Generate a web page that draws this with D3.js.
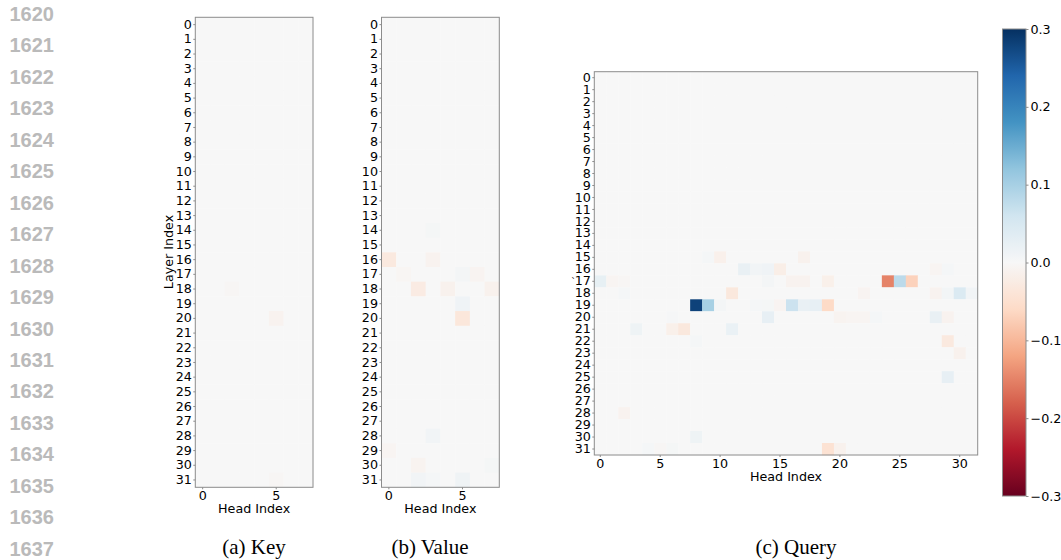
<!DOCTYPE html>
<html><head><meta charset="utf-8">
<script src="https://cdn.jsdelivr.net/npm/d3@7"></script>
<style>body{margin:0;background:#fff}svg{display:block}</style>
</head><body>
<svg id="c" width="1061" height="560"></svg>
<script>
// ---- data ----
const layers = d3.range(32);
const keyHeads = d3.range(8);
const valueHeads = d3.range(8);
const queryHeads = d3.range(32);
const xTicksSmall = [0, 5];
const xTicksQuery = [0, 5, 10, 15, 20, 25, 30];
const colorTicks = [-0.3, -0.2, -0.1, 0.0, 0.1, 0.2, 0.3];
const lineNumbers = d3.range(1620, 1638);
const captions = ["(a) Key", "(b) Value", "(c) Query"];
const rdbuColors = ["#67001f","#b2182b","#d6604d","#f4a582","#fddbc7","#f7f7f7",
                    "#d1e5f0","#92c5de","#4393c3","#2166ac","#053061"];
// non-zero cells: [layer, head, value]; every other cell is 0
const keyCells = [[18,2,-0.004],[20,5,-0.01],[31,5,-0.004]];
const valueCells = [
  [14,3,0.005],[16,0,-0.03],[16,3,-0.01],[17,1,-0.005],[17,5,0.006],[17,6,-0.008],
  [18,2,-0.025],[18,4,-0.012],[18,7,-0.013],[19,5,0.012],[20,5,-0.035],
  [28,3,0.01],[29,0,-0.006],[30,2,-0.009],[30,7,0.005],[31,2,0.009],[31,3,0.004],[31,5,0.013]
];
const queryCells = [
  [15,9,0.004],[15,10,-0.015],[15,17,-0.012],
  [16,12,0.022],[16,13,0.01],[16,14,0.012],[16,15,-0.02],[16,28,-0.006],[16,29,0.004],
  [17,0,0.025],[17,1,-0.006],[17,2,-0.004],[17,14,0.006],[17,16,-0.01],[17,17,-0.01],[17,19,-0.016],
  [17,24,-0.15],[17,25,0.08],[17,26,-0.07],
  [18,2,0.004],[18,11,-0.032],[18,22,-0.008],[18,28,-0.01],[18,29,0.008],[18,30,0.045],[18,31,0.01],
  [19,8,0.28],[19,9,0.1],[19,10,0.006],[19,13,0.004],[19,14,0.005],[19,15,-0.008],[19,16,0.065],
  [19,17,0.022],[19,18,0.026],[19,19,-0.06],
  [20,6,0.003],[20,14,0.026],[20,20,-0.009],[20,21,-0.006],[20,22,-0.006],[20,23,0.004],
  [20,28,0.022],[20,29,-0.01],
  [21,3,0.015],[21,6,-0.016],[21,7,-0.032],[21,11,0.02],
  [22,8,0.004],[22,29,-0.03],[23,30,-0.013],[25,29,0.026],[28,2,-0.01],[30,8,0.015],
  [31,4,0.004],[31,5,-0.004],[31,6,0.005],[31,19,-0.045],[31,20,-0.013]
];

// ---- drawing ----
const svg = d3.select("#c");
const color = d3.scaleLinear()
  .domain(rdbuColors.map((c, i) => -0.3 + 0.06 * i))
  .range(rdbuColors).interpolate(d3.interpolateRgb).clamp(true);
const tickFont = "'DejaVu Sans', sans-serif";
const fs = 12.7;

function grid(heads, cells) {
  const m = new Map(cells.map(c => [c[0] + "," + c[1], c[2]]));
  const out = [];
  layers.forEach(l => heads.forEach(h => out.push({l, h, v: m.get(l + "," + h) || 0})));
  return out;
}

function panel(o) {
  const g = svg.append("g");
  const x = d3.scaleBand().domain(o.heads).range([o.x0, o.x1]);
  const y = d3.scaleBand().domain(layers).range([o.y0, o.y1]);
  g.selectAll("rect.cell").data(grid(o.heads, o.cells)).join("rect")
    .attr("class", "cell")
    .attr("x", d => x(d.h)).attr("y", d => y(d.l))
    .attr("width", x.bandwidth() + 0.3).attr("height", y.bandwidth() + 0.3)
    .attr("fill", d => color(d.v));
  g.append("rect").attr("x", o.x0).attr("y", o.y0)
    .attr("width", o.x1 - o.x0).attr("height", o.y1 - o.y0)
    .attr("fill", "none").attr("stroke", "#8c8c8c").attr("stroke-width", 1);
  const ya = g.append("g").attr("transform", `translate(${o.x0},0)`)
    .call(d3.axisLeft(y).tickSize(2).tickPadding(1.5));
  const xa = g.append("g").attr("transform", `translate(0,${o.y1})`)
    .call(d3.axisBottom(x).tickValues(o.xticks).tickSize(2).tickPadding(2));
  [ya, xa].forEach(a => {
    a.select(".domain").remove();
    a.selectAll("line").attr("stroke", "#8c8c8c");
    a.selectAll("text").attr("font-family", tickFont).attr("font-size", fs).attr("fill", "#000");
  });
  g.append("text").attr("x", (o.x0 + o.x1) / 2).attr("y", o.y1 + 26)
    .attr("text-anchor", "middle").attr("font-family", tickFont).attr("font-size", fs)
    .attr("fill", "#000").text("Head Index");
  return {x, y};
}

panel({heads: keyHeads, cells: keyCells, x0: 195.3, x1: 313, y0: 17.3, y1: 487.3, xticks: xTicksSmall});
panel({heads: valueHeads, cells: valueCells, x0: 381.5, x1: 499.3, y0: 17.3, y1: 487.3, xticks: xTicksSmall});
const q = panel({heads: queryHeads, cells: queryCells, x0: 594.3, x1: 977.7, y0: 71.7, y1: 455, xticks: xTicksQuery});
svg.append("text").attr("transform", "translate(173,252) rotate(-90)")
  .attr("text-anchor", "middle").attr("font-family", tickFont).attr("font-size", fs)
  .attr("fill", "#000").text("Layer Index");
svg.append("text").attr("x", 571).attr("y", q.y(17) + q.y.bandwidth() / 2 + 5)
  .attr("font-family", tickFont).attr("font-size", 10).attr("fill", "#333").text("`");

// colorbar
const cbX = 1002.5, cbW = 23.5, cbTop = 29, cbBot = 496;
const cy = d3.scaleLinear().domain([-0.3, 0.3]).range([cbBot, cbTop]);
const defs = svg.append("defs");
const grad = defs.append("linearGradient").attr("id", "cbg")
  .attr("x1", 0).attr("y1", 1).attr("x2", 0).attr("y2", 0);
d3.range(0, 1.0001, 0.02).forEach(t => grad.append("stop")
  .attr("offset", t).attr("stop-color", color(-0.3 + 0.6 * t)));
svg.append("rect").attr("x", cbX).attr("y", cbTop).attr("width", cbW).attr("height", cbBot - cbTop)
  .attr("fill", "url(#cbg)").attr("stroke", "#8c8c8c").attr("stroke-width", 1);
const ca = svg.append("g").attr("transform", `translate(${cbX + cbW},0)`)
  .call(d3.axisRight(cy).tickValues(colorTicks).tickFormat(d3.format(".1f")).tickSize(2.5).tickPadding(2));
ca.select(".domain").remove();
ca.selectAll("line").attr("stroke", "#8c8c8c");
ca.selectAll("text").attr("font-family", tickFont).attr("font-size", fs).attr("fill", "#000");

// captions
const capX = [254, 430, 796];
svg.selectAll("text.cap").data(captions).join("text").attr("class", "cap")
  .attr("x", (d, i) => capX[i]).attr("y", 554).attr("text-anchor", "middle")
  .attr("font-family", "'Liberation Serif', 'Times New Roman', serif").attr("font-size", 21)
  .attr("fill", "#000").text(d => d);

// line numbers
svg.selectAll("text.ln").data(lineNumbers).join("text").attr("class", "ln")
  .attr("x", 9.5).attr("y", (d, i) => 21 + i * 31.45)
  .attr("font-family", "'Liberation Sans', Arial, sans-serif").attr("font-weight", "bold")
  .attr("font-size", 20).attr("fill", "#bababa").text(d => d);
</script>
</body></html>
